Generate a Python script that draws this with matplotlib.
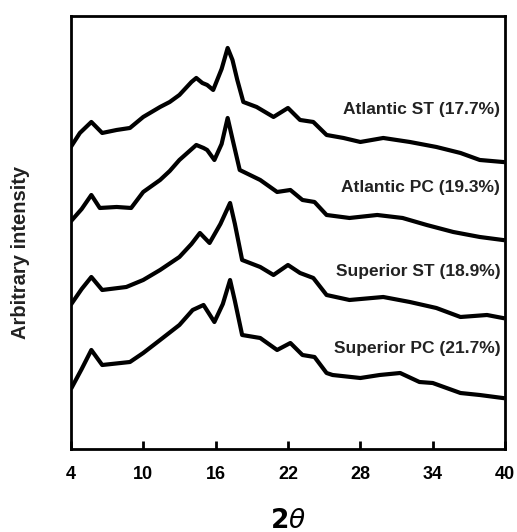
import matplotlib
matplotlib.use('Agg')
from matplotlib import pyplot as plt

plt.rcParams['font.family'] = ['Liberation Sans', 'DejaVu Sans']
plt.rcParams['mathtext.fontset'] = 'dejavusans'

# two-theta angles and arbitrary intensities
ast_angle = [4.0, 4.75, 5.7, 6.6, 7.8, 8.9, 10.0, 11.4, 12.2, 13.0, 14.0, 14.4,
             14.9, 15.3, 15.8, 16.5, 17.0, 17.4, 17.8, 18.3, 19.4, 20.8, 22.0,
             23.0, 24.1, 25.2, 26.6, 28.0, 29.9, 32.1, 34.3, 36.3, 37.9, 39.8]
ast_int = [302, 316, 327, 316, 319, 321, 332, 342, 347, 354, 367, 371,
           366, 364, 359, 380, 401, 389, 369, 347, 342, 332, 341,
           329, 327, 314, 311, 307, 311, 307, 302, 296, 289, 287]

apc_angle = [4.1, 4.9, 5.7, 6.4, 7.8, 9.0, 10.0, 11.4, 12.2, 13.0, 14.4, 15.0,
             15.3, 15.9, 16.5, 17.0, 17.4, 18.0, 19.7, 21.1, 22.2, 23.2, 24.2,
             25.2, 27.1, 29.4, 31.5, 33.5, 35.7, 37.9, 39.8]
apc_int = [229, 240, 254, 241, 242, 241, 257, 269, 278, 289, 304, 301,
           299, 289, 305, 331, 310, 279, 269, 257, 259, 249, 247,
           234, 231, 234, 231, 224, 217, 212, 209]

sst_angle = [4.1, 4.9, 5.7, 6.6, 8.6, 10.0, 11.4, 13.0, 14.0, 14.7, 15.5, 16.4,
             17.2, 17.6, 18.2, 19.7, 20.8, 22.0, 23.0, 24.1, 25.2, 27.1, 29.9,
             32.1, 34.3, 36.3, 38.5, 39.8]
sst_int = [146, 160, 172, 159, 162, 169, 179, 192, 205, 216, 206, 225,
           246, 225, 189, 182, 174, 184, 176, 171, 154, 149, 152,
           147, 141, 132, 134, 131]

spc_angle = [4.1, 4.9, 5.7, 6.6, 8.9, 10.0, 11.4, 13.0, 14.1, 15.0, 15.9, 16.6,
             17.2, 17.6, 18.2, 19.7, 21.1, 22.2, 23.2, 24.2, 25.2, 25.7, 28.0,
             29.6, 31.3, 32.9, 34.0, 36.3, 37.9, 39.8]
spc_int = [62, 80, 99, 84, 87, 96, 109, 124, 139, 144, 127, 145,
           169, 148, 114, 111, 99, 106, 94, 92, 76, 74, 71,
           74, 76, 67, 66, 56, 54, 51]

labels = ['Atlantic ST (17.7%)', 'Atlantic PC (19.3%)',
          'Superior ST (18.9%)', 'Superior PC (21.7%)']
label_y = [339, 261, 177, 100]

fig = plt.figure(figsize=(5.17, 5.32), dpi=100)
ax = fig.add_axes([0.137, 0.156, 0.840, 0.814])

for a, i in [(ast_angle, ast_int), (apc_angle, apc_int),
             (sst_angle, sst_int), (spc_angle, spc_int)]:
    ax.plot(a, i, color='black', lw=3)

for text, y in zip(labels, label_y):
    ax.text(39.6, y, text, ha='right', va='center', fontsize=12.5,
            fontweight='bold', color='#222222')

ax.set_xlim(4, 40)
ax.set_ylim(0, 433)
ax.set_xticks([4, 10, 16, 22, 28, 34, 40])
ax.set_yticks([])
ax.tick_params(axis='x', direction='in', length=6, width=2, labelsize=13,
               pad=12)
for lab in ax.get_xticklabels():
    lab.set_fontweight('bold')
for s in ax.spines.values():
    s.set_linewidth(2)

ax.set_xlabel(r'$\mathbf{2}\mathit{\theta}$', fontsize=19)
ax.xaxis.set_label_coords(0.5, -0.138)
ax.set_ylabel('Arbitrary intensity', fontsize=14.5, fontweight='bold',
              color='#222222')
ax.yaxis.set_label_coords(-0.094, 0.455)

fig.savefig('out.png', dpi=100)
